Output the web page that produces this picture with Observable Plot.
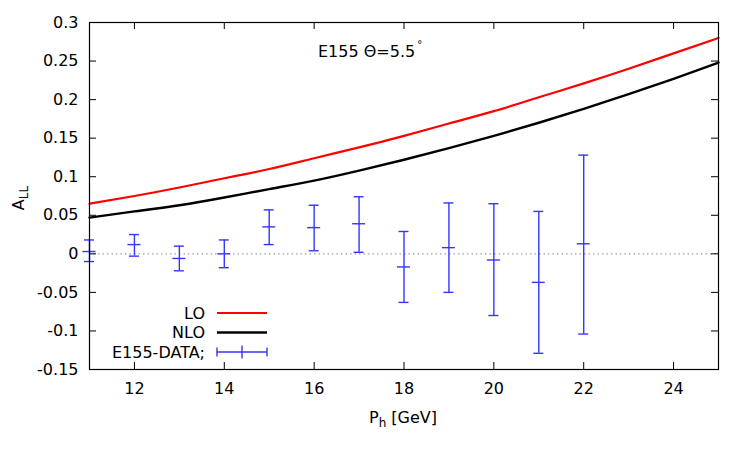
<!DOCTYPE html>
<html><head><meta charset="utf-8">
<script src="https://cdn.jsdelivr.net/npm/d3@7"></script>
<script src="https://cdn.jsdelivr.net/npm/@observablehq/plot@0.6"></script>
<style>body{margin:0;background:#fff} svg{font-family:"DejaVu Sans",sans-serif}</style>
</head><body><div id="chart"></div>
<script>
// Theory curves
const theoryX  = [11, 12, 13, 14, 15, 16, 17, 18, 19, 20, 21, 22, 23, 24, 25];
const loValues = [0.065, 0.075, 0.086, 0.098, 0.110, 0.124, 0.138, 0.153, 0.169, 0.185, 0.203, 0.221, 0.240, 0.260, 0.280];
const nloValues= [0.047, 0.055, 0.063, 0.073, 0.084, 0.095, 0.108, 0.122, 0.137, 0.153, 0.170, 0.188, 0.207, 0.227, 0.248];
// E155 data
const dataX    = [11, 12, 13, 14, 15, 16, 17, 18, 19, 20, 21, 22];
const dataY    = [0.003, 0.012, -0.006, 0.000, 0.035, 0.034, 0.039, -0.017, 0.008, -0.008, -0.037, 0.013];
const dataLow  = [-0.010, -0.003, -0.022, -0.018, 0.012, 0.004, 0.002, -0.063, -0.050, -0.080, -0.129, -0.104];
const dataHigh = [0.018, 0.025, 0.010, 0.018, 0.057, 0.063, 0.074, 0.029, 0.066, 0.065, 0.055, 0.128];
// ticks
const xTicks = [12, 14, 16, 18, 20, 22, 24];
const yTicks = [-0.15, -0.1, -0.05, 0, 0.05, 0.1, 0.15, 0.2, 0.25, 0.3];

const lo = theoryX.map((x, i) => ({x, y: loValues[i]}));
const nlo = theoryX.map((x, i) => ({x, y: nloValues[i]}));
const pts = dataX.map((x, i) => ({x, y: dataY[i], low: dataLow[i], high: dataHigh[i]}));

const W = 750, H = 450, mL = 89, mR = 32, mT = 22, mB = 81;
const innerW = W - mL - mR, innerH = H - mT - mB, tk = 7;
const blue = "#3535ff";
const fmt = d => String(+d.toFixed(2));

const plot = Plot.plot({
  width: W, height: H,
  marginLeft: mL, marginRight: mR, marginTop: mT, marginBottom: mB,
  style: {fontFamily: "DejaVu Sans, sans-serif", fontSize: "16px", color: "black", background: "white"},
  x: {domain: [11, 25]},
  y: {domain: [-0.15, 0.3]},
  marks: [
    Plot.ruleY([0], {stroke: "#a0a0a0", strokeWidth: 1.3, strokeDasharray: "1.5,3"}),
    Plot.axisX(xTicks, {tickSize: 0, tickPadding: 13, label: null, fontSize: 16}),
    Plot.axisY(yTicks, {tickSize: 0, tickPadding: 11, label: null, tickFormat: fmt, fontSize: 16}),
    Plot.tickY(yTicks, {y: d => d, insetRight: innerW - tk, stroke: "black"}),
    Plot.tickY(yTicks, {y: d => d, insetLeft: innerW - tk, stroke: "black"}),
    Plot.tickX(xTicks, {x: d => d, insetTop: innerH - tk, stroke: "black"}),
    Plot.tickX(xTicks, {x: d => d, insetBottom: innerH - tk, stroke: "black"}),
    Plot.line(lo, {x: "x", y: "y", stroke: "#ff0000", strokeWidth: 2.2, curve: "natural"}),
    Plot.line(nlo, {x: "x", y: "y", stroke: "black", strokeWidth: 2.4, curve: "natural"}),
    Plot.ruleX(pts, {x: "x", y1: "low", y2: "high", stroke: blue, strokeWidth: 1.4}),
    Plot.ruleY(pts, {y: "low", x1: "x", x2: "x", insetLeft: -5, insetRight: -5, stroke: blue, strokeWidth: 1.4}),
    Plot.ruleY(pts, {y: "high", x1: "x", x2: "x", insetLeft: -5, insetRight: -5, stroke: blue, strokeWidth: 1.4}),
    Plot.ruleY(pts, {y: "y", x1: "x", x2: "x", insetLeft: -6.5, insetRight: -6.5, stroke: blue, strokeWidth: 1.4}),
    Plot.frame({stroke: "black", strokeWidth: 1.2})
  ]
});
document.getElementById("chart").appendChild(plot);

const svg = d3.select(plot);
const g = svg.append("g").attr("font-family", "DejaVu Sans, sans-serif").attr("font-size", 16).attr("fill", "black");

// title
const t = g.append("text").attr("x", 318).attr("y", 57).attr("text-anchor", "start");
t.append("tspan").text("E155 Θ=5.5");
t.append("tspan").attr("font-size", 10).attr("dy", -9).attr("dx", 2).text("°");

// axis labels
const xl = g.append("text").attr("x", 403).attr("y", 423).attr("text-anchor", "middle");
xl.append("tspan").text("P");
xl.append("tspan").attr("font-size", 12).attr("dy", 4).text("h");
xl.append("tspan").attr("dy", -4).text(" [GeV]");

const yl = g.append("text").attr("transform", "translate(24,198) rotate(-90)").attr("text-anchor", "middle");
yl.append("tspan").text("A");
yl.append("tspan").attr("font-size", 12).attr("dy", 4).text("LL");

// legend
const leg = [
  {label: "LO", y: 313, color: "#ff0000", w: 2.2},
  {label: "NLO", y: 332.5, color: "black", w: 2.4},
  {label: "E155-DATA;", y: 352, color: blue, w: 1.4, err: true}
];
for (const d of leg) {
  g.append("text").attr("x", 205).attr("y", d.y).attr("dy", "0.36em").attr("text-anchor", "end").text(d.label);
  g.append("line").attr("x1", 217).attr("x2", 267).attr("y1", d.y).attr("y2", d.y).attr("stroke", d.color).attr("stroke-width", d.w);
  if (d.err) {
    for (const x of [217, 267]) g.append("line").attr("x1", x).attr("x2", x).attr("y1", d.y - 4.5).attr("y2", d.y + 4.5).attr("stroke", d.color).attr("stroke-width", 1.4);
    g.append("line").attr("x1", 242).attr("x2", 242).attr("y1", d.y - 6.5).attr("y2", d.y + 6.5).attr("stroke", d.color).attr("stroke-width", 1.4);
  }
}
</script>
</body></html>
